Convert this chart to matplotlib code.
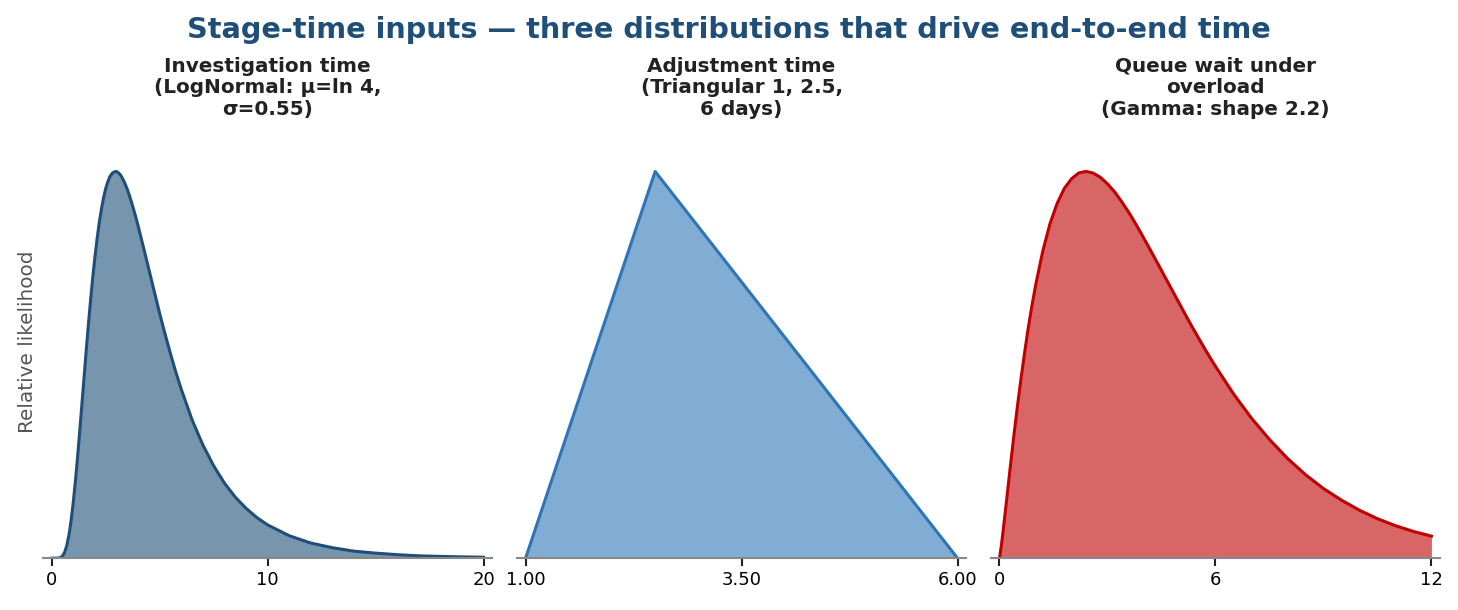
import matplotlib
matplotlib.use("Agg")
import matplotlib.pyplot as plt

# ---- data (relative likelihood, peak = 1) ----
inv_days = [0, 0.3, 0.4, 0.5, 0.6, 0.7, 0.8, 0.9, 1.0, 1.1, 1.2, 1.3, 1.4, 1.5,
            1.6, 1.7, 1.8, 1.9, 2.0, 2.1, 2.2, 2.3, 2.4, 2.5, 2.6, 2.7, 2.8,
            2.9, 3.0, 3.1, 3.2, 3.3, 3.4, 3.5, 3.6, 3.7, 3.8, 3.9, 4.0, 4.25,
            4.5, 4.75, 5.0, 5.25, 5.5, 5.75, 6, 6.5, 7, 7.5, 8, 8.5, 9, 9.5,
            10, 11, 12, 13, 14, 15, 16, 17, 18, 19, 20]
inv_rel = [0, 0.0002, 0.0014, 0.0054, 0.0149, 0.0324, 0.0594, 0.0966, 0.144,
           0.199, 0.261, 0.328, 0.397, 0.467, 0.537, 0.603, 0.666, 0.724,
           0.777, 0.824, 0.866, 0.901, 0.931, 0.955, 0.973, 0.987, 0.995,
           0.999, 1.0, 0.996, 0.990, 0.980, 0.968, 0.954, 0.938, 0.920, 0.901,
           0.881, 0.860, 0.804, 0.747, 0.690, 0.633, 0.580, 0.529, 0.481,
           0.437, 0.358, 0.293, 0.239, 0.194, 0.158, 0.129, 0.105, 0.086,
           0.058, 0.039, 0.027, 0.018, 0.013, 0.009, 0.006, 0.0045, 0.0033,
           0.0024]

adj_days = [1.0, 2.5, 6.0]
adj_rel = [0.0, 1.0, 0.0]

queue_days = [0, 0.05, 0.1, 0.2, 0.3, 0.4, 0.5, 0.6, 0.7, 0.8, 0.9, 1.0, 1.2,
              1.4, 1.6, 1.8, 2.0, 2.2, 2.4, 2.6, 2.8, 3.0, 3.2, 3.4, 3.6, 3.8,
              4.0, 4.25, 4.5, 4.75, 5.0, 5.25, 5.5, 5.75, 6, 6.5, 7, 7.5, 8,
              8.5, 9, 9.5, 10, 10.5, 11, 11.5, 12]
queue_rel = [0, 0.031, 0.070, 0.152, 0.236, 0.317, 0.394, 0.466, 0.533, 0.596,
             0.652, 0.704, 0.793, 0.864, 0.917, 0.956, 0.981, 0.996, 1.0,
             0.996, 0.985, 0.968, 0.947, 0.921, 0.893, 0.862, 0.829, 0.787,
             0.744, 0.701, 0.658, 0.615, 0.574, 0.534, 0.496, 0.425, 0.362,
             0.307, 0.258, 0.216, 0.180, 0.150, 0.124, 0.102, 0.084, 0.069,
             0.057]

titles = ["Investigation time\n(LogNormal: \u03bc=ln 4,\n\u03c3=0.55)",
          "Adjustment time\n(Triangular 1, 2.5,\n6 days)",
          "Queue wait under\noverload\n(Gamma: shape 2.2)"]
colors = ["#1F4E79", "#2E75B6", "#C00000"]
tick_fmt = ["{:.0f}", "{:.2f}", "{:.0f}"]

fig, axes = plt.subplots(1, 3, figsize=(14.58, 6.10), dpi=100)
fig.subplots_adjust(left=0.0295, right=0.9877, bottom=0.085, top=0.795, wspace=0.055)

series = [(inv_days, inv_rel), (adj_days, adj_rel), (queue_days, queue_rel)]
for ax, (xs, ys), title, col, fmt in zip(axes, series, titles, colors, tick_fmt):
    ax.fill_between(xs, 0, ys, color=col, alpha=0.6, lw=0)
    ax.plot(xs, ys, color=col, lw=2.2, solid_joinstyle="round")
    lo, hi = xs[0], xs[-1]
    pad = (hi - lo) * 0.02
    ax.set_xlim(lo - pad, hi + pad)
    ax.set_ylim(0, 1.12)
    ticks = [lo, (lo + hi) / 2, hi]
    ax.set_xticks(ticks)
    ax.set_xticklabels([fmt.format(t) for t in ticks])
    ax.set_yticks([])
    for s in ["top", "right", "left"]:
        ax.spines[s].set_visible(False)
    ax.spines["bottom"].set_color("#888888")
    ax.spines["bottom"].set_linewidth(1.5)
    ax.tick_params(axis="x", labelsize=13, length=6, width=1.5, color="#222222")
    ax.set_title(title, fontsize=14.4, fontweight="bold", color="#222222",
                 pad=7, linespacing=1.19)

axes[0].set_ylabel("Relative likelihood", fontsize=14.4, color="#555555")

fig.suptitle("Stage-time inputs \u2014 three distributions that drive end-to-end time",
             fontsize=20.7, fontweight="bold", color="#1F4E79", y=0.973)

fig.savefig("out.png", dpi=100)
